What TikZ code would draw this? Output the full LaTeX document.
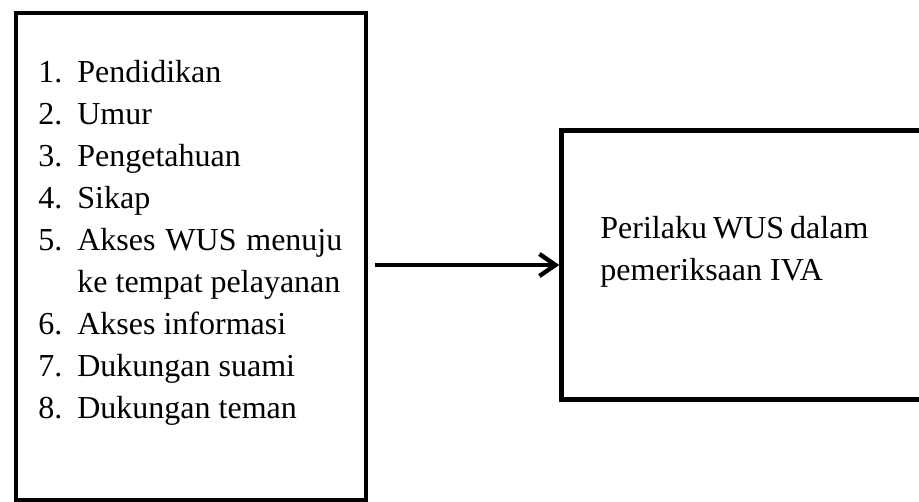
\documentclass[tikz,border=0pt]{standalone}
\usepackage{fontspec}
\setmainfont{Liberation Serif}
\usetikzlibrary{arrows.meta}
\begin{document}
\begin{tikzpicture}[x=0.5pt,y=-0.5pt,
    kotak/.style={draw, line width=2.2pt, inner sep=0pt},
    teks/.style={inner sep=0pt, anchor=base west, font=\fontsize{16}{21}\selectfont}]
    \useasboundingbox (0,0) rectangle (919,502);

    % Kotak kiri (faktor-faktor)
    \node[kotak, minimum width=175pt, minimum height=243.5pt] (faktor) at (191,256.5) {};
    \node[teks] (daftar) at (38,83) {\begin{tabular}[t]{@{}p{19.5pt}@{}l@{}}
        1. & Pendidikan\\
        2. & Umur\\
        3. & Pengetahuan\\
        4. & Sikap\\
        5. & \makebox[132.5pt][s]{Akses WUS menuju}\\
           & ke tempat pelayanan\\
        6. & Akses informasi\\
        7. & Dukungan suami\\
        8. & Dukungan teman
    \end{tabular}};

    % Kotak kanan (perilaku)
    \node[kotak, minimum width=199.25pt, minimum height=134.5pt] (perilaku) at (760.75,265) {};
    \node[teks] (hasil) at (600,238) {\begin{tabular}[t]{@{}l@{}}
        \makebox[134pt][s]{Perilaku WUS dalam}\\
        pemeriksaan IVA
    \end{tabular}};

    % Panah
    \draw[line width=2.2pt, shorten <=3.5pt, -{Straight Barb[length=8pt,width=11pt]}]
        (perilaku.west -| faktor.east) -- (perilaku.west);

\end{tikzpicture}
\end{document}
